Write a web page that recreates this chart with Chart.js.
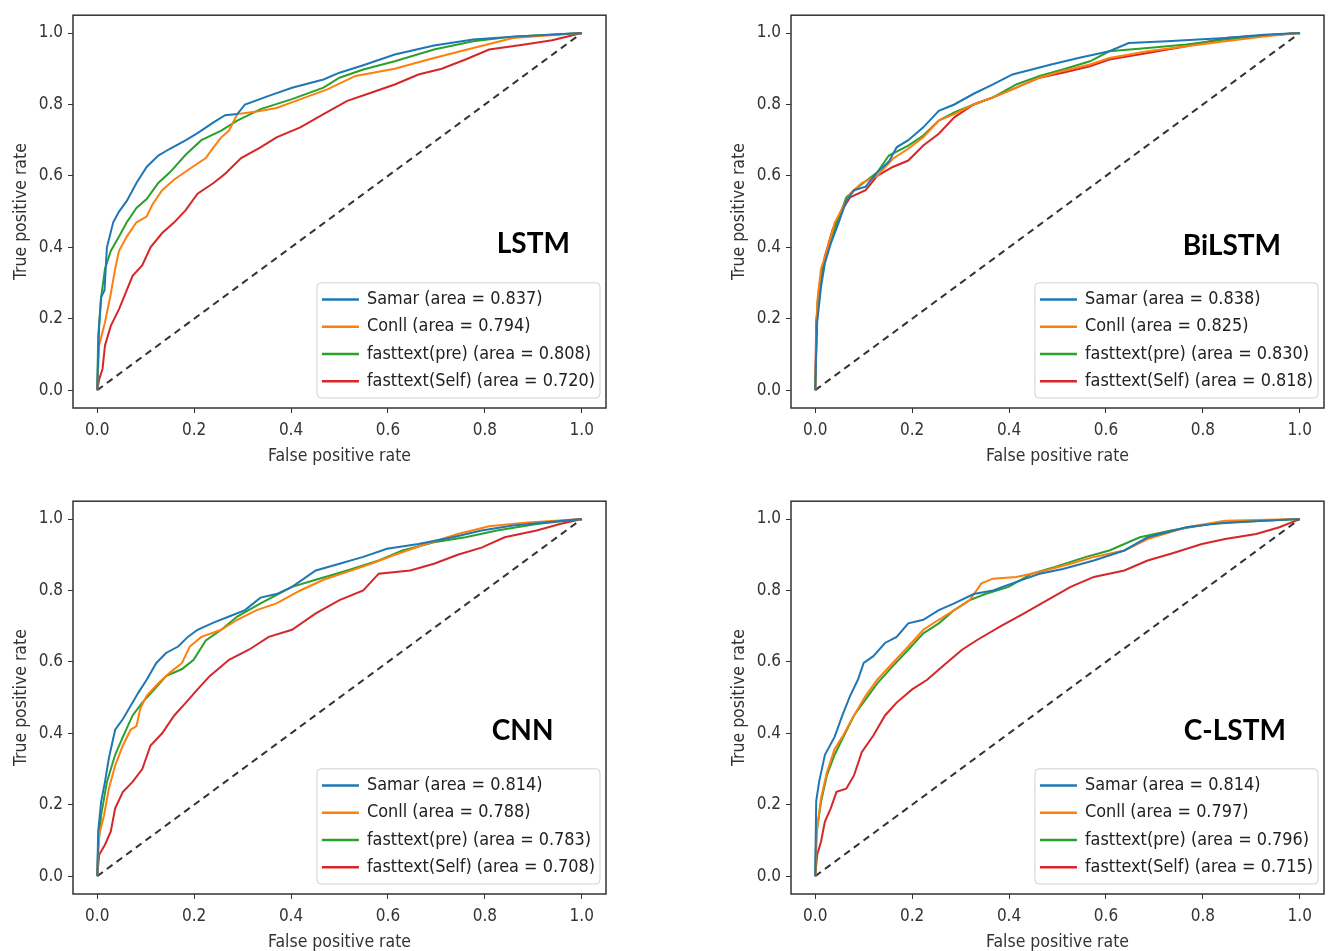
<!DOCTYPE html>
<html>
<head>
<meta charset="utf-8">
<script src="https://cdn.jsdelivr.net/npm/chart.js@4.4.1/dist/chart.umd.min.js"></script>
<style>
  html, body { margin: 0; padding: 0; background: #fff; overflow: hidden; }
  .panel { position: absolute; width: 665px; height: 476px; }
</style>
</head>
<body>
<div class="panel" style="left:0;top:0"><canvas id="c0" width="665" height="476"></canvas></div>
<div class="panel" style="left:718px;top:0"><canvas id="c1" width="665" height="476"></canvas></div>
<div class="panel" style="left:0;top:486px"><canvas id="c2" width="665" height="476"></canvas></div>
<div class="panel" style="left:718px;top:486px"><canvas id="c3" width="665" height="476"></canvas></div>
<script>
// --- datos: [fpr, tpr] ---
const tickValues = [0, 0.2, 0.4, 0.6, 0.8, 1.0];
const seriesNames = ['Samar', 'Conll', 'fasttext(pre)', 'fasttext(Self)'];
const modelNames = ['LSTM', 'BiLSTM', 'CNN', 'C-LSTM'];

const aucLSTM = ['0.837', '0.794', '0.808', '0.720'];
const aucBiLSTM = ['0.838', '0.825', '0.830', '0.818'];
const aucCNN = ['0.814', '0.788', '0.783', '0.708'];
const aucCLSTM = ['0.814', '0.797', '0.796', '0.715'];

const lstmSamar = [[0,0],[0.002,0.10],[0.004,0.18],[0.008,0.26],[0.015,0.28],[0.02,0.40],[0.033,0.47],[0.045,0.50],[0.061,0.53],[0.081,0.58],[0.102,0.625],[0.126,0.657],[0.15,0.676],[0.183,0.70],[0.207,0.72],[0.24,0.75],[0.264,0.77],[0.289,0.773],[0.305,0.80],[0.354,0.824],[0.402,0.847],[0.467,0.87],[0.5,0.889],[0.549,0.91],[0.614,0.94],[0.695,0.965],[0.776,0.982],[0.858,0.99],[1,1]];
const lstmConll = [[0,0],[0.004,0.125],[0.016,0.19],[0.028,0.27],[0.037,0.34],[0.045,0.39],[0.061,0.43],[0.081,0.47],[0.102,0.486],[0.114,0.52],[0.134,0.56],[0.159,0.59],[0.191,0.62],[0.224,0.65],[0.24,0.68],[0.256,0.708],[0.272,0.727],[0.289,0.773],[0.329,0.78],[0.37,0.79],[0.41,0.81],[0.476,0.843],[0.533,0.88],[0.614,0.90],[0.695,0.93],[0.776,0.958],[0.858,0.986],[1,1]];
const lstmPre = [[0,0],[0.002,0.15],[0.008,0.26],[0.016,0.34],[0.028,0.39],[0.045,0.43],[0.061,0.47],[0.081,0.51],[0.102,0.535],[0.126,0.58],[0.15,0.61],[0.183,0.66],[0.215,0.70],[0.256,0.727],[0.289,0.755],[0.337,0.787],[0.402,0.815],[0.467,0.847],[0.5,0.875],[0.549,0.898],[0.614,0.921],[0.695,0.954],[0.776,0.977],[0.858,0.99],[1,1]];
const lstmSelf = [[0,0],[0.004,0.03],[0.011,0.06],[0.016,0.125],[0.028,0.18],[0.045,0.227],[0.061,0.28],[0.073,0.32],[0.093,0.35],[0.11,0.40],[0.134,0.44],[0.159,0.47],[0.183,0.505],[0.207,0.55],[0.24,0.58],[0.264,0.606],[0.297,0.65],[0.337,0.68],[0.37,0.708],[0.419,0.736],[0.467,0.773],[0.516,0.81],[0.565,0.833],[0.614,0.856],[0.663,0.884],[0.711,0.90],[0.76,0.926],[0.809,0.954],[0.882,0.968],[0.939,0.98],[1,1]];

const biSamar = [[0,0],[0.002,0.106],[0.004,0.19],[0.012,0.29],[0.02,0.356],[0.032,0.41],[0.048,0.468],[0.064,0.53],[0.08,0.56],[0.104,0.57],[0.128,0.61],[0.152,0.64],[0.168,0.68],[0.192,0.70],[0.223,0.736],[0.255,0.782],[0.287,0.80],[0.327,0.83],[0.367,0.856],[0.407,0.884],[0.447,0.898],[0.487,0.912],[0.543,0.93],[0.607,0.949],[0.647,0.972],[0.726,0.977],[0.846,0.986],[0.926,0.995],[1,1]];
const biConll = [[0,0],[0.004,0.245],[0.012,0.34],[0.024,0.39],[0.04,0.468],[0.056,0.51],[0.072,0.55],[0.096,0.58],[0.128,0.60],[0.16,0.648],[0.192,0.676],[0.223,0.708],[0.255,0.755],[0.287,0.773],[0.327,0.80],[0.367,0.82],[0.415,0.847],[0.463,0.875],[0.511,0.894],[0.567,0.912],[0.607,0.93],[0.686,0.949],[0.766,0.963],[0.846,0.977],[0.926,0.99],[1,1]];
const biPre = [[0,0],[0.004,0.227],[0.012,0.32],[0.024,0.384],[0.04,0.45],[0.064,0.54],[0.088,0.568],[0.128,0.61],[0.152,0.657],[0.192,0.685],[0.223,0.713],[0.255,0.755],[0.287,0.778],[0.327,0.80],[0.367,0.82],[0.415,0.856],[0.463,0.88],[0.511,0.898],[0.567,0.921],[0.607,0.949],[0.686,0.958],[0.766,0.968],[0.846,0.982],[0.926,0.993],[1,1]];
const biSelf = [[0,0],[0.002,0.19],[0.008,0.29],[0.02,0.375],[0.036,0.45],[0.056,0.505],[0.072,0.54],[0.104,0.56],[0.128,0.60],[0.16,0.625],[0.192,0.643],[0.223,0.685],[0.255,0.718],[0.287,0.764],[0.327,0.80],[0.367,0.82],[0.415,0.847],[0.463,0.875],[0.511,0.889],[0.567,0.907],[0.607,0.926],[0.686,0.944],[0.766,0.963],[0.846,0.986],[0.926,0.993],[1,1]];

const cnnSamar = [[0,0],[0.002,0.125],[0.008,0.208],[0.016,0.264],[0.024,0.33],[0.037,0.41],[0.053,0.44],[0.073,0.486],[0.085,0.514],[0.102,0.55],[0.122,0.597],[0.142,0.625],[0.167,0.643],[0.187,0.67],[0.207,0.69],[0.24,0.71],[0.272,0.727],[0.305,0.745],[0.337,0.78],[0.37,0.79],[0.402,0.81],[0.451,0.856],[0.5,0.875],[0.549,0.894],[0.598,0.917],[0.663,0.93],[0.736,0.95],[0.793,0.968],[0.858,0.982],[1,1]];
const cnnConll = [[0,0],[0.004,0.116],[0.014,0.17],[0.024,0.245],[0.037,0.31],[0.053,0.366],[0.069,0.41],[0.081,0.42],[0.089,0.47],[0.102,0.505],[0.126,0.54],[0.15,0.57],[0.175,0.597],[0.191,0.643],[0.215,0.67],[0.256,0.69],[0.289,0.718],[0.329,0.745],[0.37,0.764],[0.419,0.80],[0.467,0.83],[0.516,0.852],[0.565,0.875],[0.614,0.90],[0.679,0.93],[0.744,0.958],[0.809,0.98],[0.882,0.99],[1,1]];
const cnnPre = [[0,0],[0.002,0.08],[0.008,0.17],[0.02,0.264],[0.037,0.34],[0.053,0.39],[0.073,0.45],[0.093,0.486],[0.118,0.523],[0.142,0.56],[0.175,0.58],[0.199,0.606],[0.224,0.66],[0.256,0.69],[0.289,0.727],[0.337,0.764],[0.402,0.81],[0.451,0.83],[0.516,0.856],[0.581,0.884],[0.63,0.912],[0.695,0.935],[0.76,0.949],[0.825,0.968],[0.907,0.986],[1,1]];
const cnnSelf = [[0,0],[0.004,0.06],[0.016,0.088],[0.028,0.125],[0.037,0.19],[0.053,0.236],[0.073,0.264],[0.093,0.30],[0.11,0.366],[0.134,0.40],[0.159,0.45],[0.183,0.486],[0.207,0.523],[0.232,0.56],[0.272,0.606],[0.313,0.634],[0.354,0.67],[0.402,0.69],[0.451,0.736],[0.5,0.773],[0.549,0.80],[0.581,0.847],[0.646,0.856],[0.695,0.875],[0.744,0.90],[0.793,0.92],[0.841,0.949],[0.907,0.968],[0.955,0.986],[1,1]];

const clSamar = [[0,0],[0.002,0.21],[0.008,0.264],[0.02,0.34],[0.04,0.39],[0.056,0.45],[0.072,0.505],[0.088,0.55],[0.1,0.597],[0.12,0.616],[0.144,0.653],[0.168,0.67],[0.192,0.708],[0.223,0.718],[0.255,0.745],[0.287,0.764],[0.327,0.79],[0.367,0.80],[0.415,0.824],[0.463,0.847],[0.511,0.86],[0.575,0.884],[0.638,0.912],[0.686,0.949],[0.766,0.977],[0.846,0.99],[1,1]];
const clConll = [[0,0],[0.004,0.134],[0.012,0.218],[0.024,0.29],[0.04,0.356],[0.056,0.39],[0.08,0.45],[0.104,0.505],[0.128,0.55],[0.16,0.597],[0.192,0.643],[0.223,0.69],[0.255,0.718],[0.287,0.745],[0.319,0.773],[0.343,0.82],[0.367,0.833],[0.415,0.838],[0.463,0.852],[0.527,0.875],[0.575,0.894],[0.638,0.912],[0.686,0.944],[0.766,0.977],[0.846,0.995],[1,1]];
const clPre = [[0,0],[0.002,0.116],[0.012,0.208],[0.024,0.282],[0.04,0.34],[0.056,0.384],[0.08,0.45],[0.104,0.495],[0.128,0.54],[0.16,0.588],[0.192,0.634],[0.223,0.68],[0.255,0.708],[0.287,0.745],[0.319,0.773],[0.351,0.79],[0.399,0.81],[0.447,0.847],[0.495,0.866],[0.559,0.894],[0.607,0.912],[0.67,0.949],[0.734,0.968],[0.814,0.986],[0.926,0.995],[1,1]];
const clSelf = [[0,0],[0.004,0.06],[0.012,0.097],[0.02,0.153],[0.032,0.19],[0.044,0.236],[0.064,0.245],[0.08,0.282],[0.096,0.347],[0.12,0.394],[0.144,0.45],[0.168,0.486],[0.2,0.523],[0.231,0.55],[0.263,0.588],[0.303,0.634],[0.335,0.662],[0.383,0.70],[0.431,0.736],[0.479,0.773],[0.527,0.81],[0.575,0.838],[0.638,0.856],[0.686,0.884],[0.734,0.903],[0.798,0.93],[0.846,0.944],[0.91,0.958],[0.958,0.977],[1,1]];

const diagonal = [[0,0],[1,1]];

// colores matplotlib
const colors = ['#1f77b4', '#ff7f0e', '#2ca02c', '#d62728'];
const tickFont = { family: "'DejaVu Sans Condensed', 'DejaVu Sans', sans-serif", size: 17 };
const titleFont = { family: "'DejaVu Sans Condensed', 'DejaVu Sans', sans-serif", size: 17.5 };
const legendFont = "17.9px 'DejaVu Sans Condensed', 'DejaVu Sans', sans-serif";
const inkColor = '#333';

const panels = [
  { id: 'c0', name: modelNames[0], auc: aucLSTM, curves: [lstmSamar, lstmConll, lstmPre, lstmSelf], tx: 0.90, ty: 0.408 },
  { id: 'c1', name: modelNames[1], auc: aucBiLSTM, curves: [biSamar, biConll, biPre, biSelf], tx: 0.86, ty: 0.405 },
  { id: 'c2', name: modelNames[2], auc: aucCNN, curves: [cnnSamar, cnnConll, cnnPre, cnnSelf], tx: 0.878, ty: 0.407 },
  { id: 'c3', name: modelNames[3], auc: aucCLSTM, curves: [clSamar, clConll, clPre, clSelf], tx: 0.866, ty: 0.407 }
];

// marco, leyenda y nombre del modelo
const framePlugin = {
  id: 'frame',
  afterDraw(chart, args, opts) {
    const { ctx, chartArea: a, scales } = chart;
    ctx.save();
    ctx.strokeStyle = inkColor;
    ctx.lineWidth = 1.5;
    ctx.strokeRect(a.left, a.top, a.right - a.left, a.bottom - a.top);

    // nombre
    ctx.fillStyle = '#000';
    ctx.font = "bold 28px Lato, 'Open Sans', sans-serif";
    ctx.textAlign = 'center';
    ctx.textBaseline = 'middle';
    ctx.fillText(opts.name, scales.x.getPixelForValue(opts.tx), scales.y.getPixelForValue(opts.ty));

    // leyenda
    const items = chart.data.datasets.filter(d => !d.isDiagonal);
    ctx.font = legendFont;
    let maxW = 0;
    items.forEach(d => { maxW = Math.max(maxW, ctx.measureText(d.label).width); });
    const rowH = 27.3, pad = 5, handle = 37, gap = 8;
    const w = pad + handle + gap + maxW + pad;
    const h = rowH * items.length + 6;
    const x0 = a.right - 6 - w;
    const y0 = a.bottom - 10 - h;
    ctx.fillStyle = 'rgba(255,255,255,0.85)';
    ctx.strokeStyle = '#d0d0d0';
    ctx.lineWidth = 1;
    ctx.beginPath();
    ctx.roundRect(x0, y0, w, h, 4);
    ctx.fill();
    ctx.stroke();
    ctx.textAlign = 'left';
    items.forEach((d, i) => {
      const cy = y0 + 3 + rowH * (i + 0.5);
      ctx.strokeStyle = d.borderColor;
      ctx.lineWidth = 2.5;
      ctx.beginPath();
      ctx.moveTo(x0 + pad, cy);
      ctx.lineTo(x0 + pad + handle, cy);
      ctx.stroke();
      ctx.fillStyle = '#222';
      ctx.fillText(d.label, x0 + pad + handle + gap, cy);
    });
    ctx.restore();
  }
};

function axis(titleText, isX) {
  return {
    type: 'linear',
    min: -0.05,
    max: 1.05,
    afterBuildTicks: s => { s.ticks = tickValues.map(v => ({ value: v })); },
    afterFit: s => { if (isX) s.height = 68; else s.width = 73; },
    ticks: { callback: v => v.toFixed(1), font: tickFont, color: inkColor, padding: isX ? 7 : 5, maxRotation: 0, autoSkip: false },
    grid: { drawOnChartArea: false, tickLength: 5, color: inkColor, lineWidth: 1 },
    border: { display: false },
    title: { display: true, text: titleText, font: titleFont, color: inkColor, padding: isX ? { top: 2, bottom: 9 } : { top: 11, bottom: 2 } }
  };
}

panels.forEach(p => {
  const datasets = p.curves.map((c, i) => ({
    label: `${seriesNames[i]} (area = ${p.auc[i]})`,
    data: c.map(([x, y]) => ({ x, y })),
    borderColor: colors[i],
    borderWidth: 2,
    pointRadius: 0,
    showLine: true,
    tension: 0
  }));
  datasets.push({
    label: 'diagonal',
    isDiagonal: true,
    data: diagonal.map(([x, y]) => ({ x, y })),
    borderColor: '#333',
    borderDash: [7, 5],
    borderWidth: 2,
    pointRadius: 0,
    showLine: true
  });

  new Chart(document.getElementById(p.id), {
    type: 'scatter',
    data: { datasets },
    options: {
      responsive: false,
      animation: false,
      devicePixelRatio: 1,
      layout: { padding: { top: 11, right: 59, left: 0, bottom: 0 } },
      plugins: {
        legend: { display: false },
        tooltip: { enabled: false },
        frame: { name: p.name, tx: p.tx, ty: p.ty }
      },
      scales: {
        x: axis('False positive rate', true),
        y: axis('True positive rate', false)
      }
    },
    plugins: [framePlugin]
  });
});
</script>
</body>
</html>
